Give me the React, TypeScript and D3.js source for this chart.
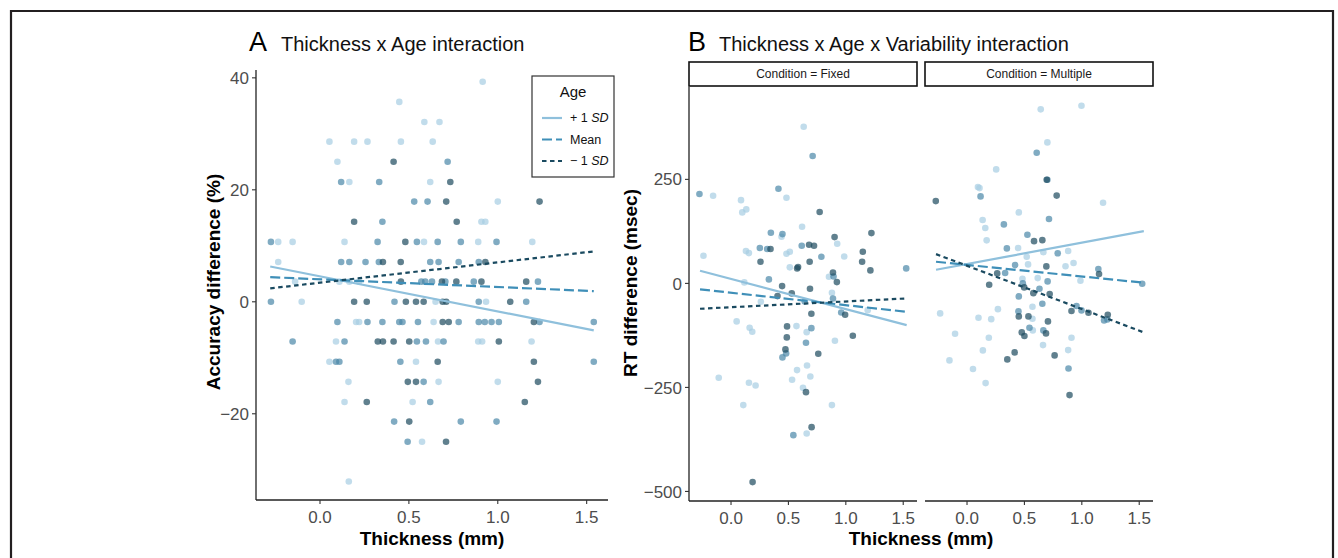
import React from 'react';
import * as d3 from 'd3';

// ---- data ----
// panel A: thickness (mm) vs accuracy difference (%), points grouped by age shade
const aOlderPts = [
  [0.915, 39.3], [0.446, 35.7], [0.587, 32.1], [0.672, 32.1], [0.053, 28.6], [0.192, 28.6], [0.267, 28.6],
  [0.455, 28.6], [0.634, 28.6], [0.098, 25], [0.165, 21.4], [0.62, 21.4], [1.0, 17.9], [0.908, 14.3],
  [0.93, 14.3], [-0.235, 10.7], [-0.154, 10.7], [0.138, 10.7], [0.585, 10.7], [0.89, 10.7], [1.194, 10.7],
  [-0.235, 7.1], [-0.14, 3.6], [0.109, 3.6], [0.165, 3.6], [0.22, 3.6], [-0.103, 0], [0.65, 0], [0.934, 0],
  [0.203, -3.6], [0.22, -3.6], [0.639, -3.6], [0.09, -7.1], [0.664, -7.1], [0.89, -7.1], [0.912, -7.1],
  [1.19, -7.1], [0.053, -10.7], [0.54, -10.7], [0.16, -14.3], [0.667, -14.3], [1.0, -14.3], [0.138, -17.9],
  [0.521, -17.9], [0.574, -25], [0.162, -32.1],
];
const aMeanPts = [
  [0.718, 25], [0.119, 21.4], [0.333, 21.4], [0.53, 17.9], [0.605, 17.9], [0.351, 14.3], [-0.276, 10.7],
  [0.324, 10.7], [0.545, 10.7], [0.662, 10.7], [0.792, 10.7], [0.993, 10.7], [0.119, 7.1], [0.165, 7.1],
  [0.256, 7.1], [0.331, 7.1], [0.62, 7.1], [0.667, 7.1], [0.78, 7.1], [0.893, 7.1], [0.57, 3.6], [0.592, 3.6],
  [0.63, 3.6], [0.705, 3.6], [0.865, 3.6], [1.226, 3.6], [-0.276, 0], [0.419, 0], [0.893, 0], [1.16, 0],
  [0.098, -3.6], [0.267, -3.6], [0.351, -3.6], [0.446, -3.6], [0.464, -3.6], [0.551, -3.6], [0.78, -3.6],
  [0.893, -3.6], [0.927, -3.6], [0.965, -3.6], [1.006, -3.6], [1.235, -3.6], [1.54, -3.6], [-0.154, -7.1],
  [0.138, -7.1], [0.545, -7.1], [0.596, -7.1], [0.695, -7.1], [0.09, -10.7], [0.109, -10.7], [0.452, -10.7],
  [1.54, -10.7], [0.583, -14.3], [0.62, -17.9], [0.417, -21.4], [0.792, -21.4], [0.993, -21.4], [0.493, -25],
];
const aYoungerPts = [
  [0.414, 25], [0.733, 21.4], [0.71, 17.9], [1.235, 17.9], [0.192, 14.3], [0.769, 14.3], [0.48, 10.7],
  [0.354, 7.1], [0.454, 7.1], [0.93, 7.1], [0.455, 3.6], [0.686, 3.6], [0.767, 3.6], [0.908, 3.6], [1.16, 3.6],
  [0.192, 0], [0.263, 0], [0.483, 0], [0.54, 0], [0.583, 0], [0.69, 0], [0.71, 0], [1.07, 0], [0.69, -3.6],
  [0.724, -3.6], [1.203, -3.6], [0.325, -7.1], [0.354, -7.1], [0.414, -7.1], [0.502, -7.1], [1.006, -7.1],
  [0.662, -10.7], [1.203, -10.7], [0.494, -14.3], [0.54, -14.3], [1.226, -14.3], [0.263, -17.9],
  [1.152, -17.9], [0.502, -21.4], [0.709, -25],
];

// panel B: RT difference (msec), two conditions
const bFixedOlder = [
  [-0.156, 210.6], [-0.24, 66.4], [0.087, 200], [0.098, 170.6], [0.133, 177.8], [0.13, 77.6], [0.156, 72.8],
  [0.116, 2.4], [0.44, 112], [0.483, 205.8], [0.26, -44.2], [0.049, -91.4], [0.162, -106.7], [0.185, -116.3],
  [-0.107, -226.9], [0.156, -238.9], [0.214, -245.3], [0.107, -292.5], [0.57, -102.6], [0.512, 38.5],
  [0.483, 71.2], [0.512, 76], [0.619, 136.1], [0.633, 376.5], [0.659, -117.2], [0.662, -197.2],
  [0.691, -223.6], [0.575, -208.4], [0.532, -231.7], [0.627, -251], [0.659, -360.7], [0.925, 95.3],
  [0.986, 64.8], [0.853, 15.9], [0.879, -22.6], [0.905, -138], [0.879, -292.5], [1.191, -64.3],
];
const bFixedMean = [
  [-0.275, 214.7], [0.251, 84.9], [0.315, 82.5], [0.347, 121.7], [0.33, 9.6], [0.413, 227.5], [0.448, 118.5],
  [0.48, -168.3], [0.448, -177.9], [0.616, 90.4], [0.711, 306], [0.787, 64], [0.642, -43.4], [0.7, -107.6],
  [0.653, -142.7], [0.543, -364.7], [0.893, 16.7], [0.888, -36.2], [0.96, -69.9], [1.526, 36],
];
const bFixedYounger = [
  [0.257, 52], [0.344, 82.5], [0.445, -6.5], [0.405, -30.5], [0.188, -477.6], [0.529, -24], [0.488, -103.4],
  [0.486, -129.8], [0.474, -158.6], [0.576, 36], [0.584, 39.2], [0.772, 171.4], [0.68, 92.8], [0.723, 90.4],
  [0.685, 52], [0.688, -12.9], [0.7, -73], [0.653, -261.4], [0.702, -345.5], [0.76, -169.1], [0.902, 111.3],
  [0.888, 26.3], [0.922, 3.1], [0.994, -75.5], [1.061, -125.9], [1.148, 76], [1.142, 52], [1.223, 120.9],
  [1.214, 31.2],
];
const bMultOlder = [
  [-0.234, -72.1], [-0.104, -121.2], [-0.153, -185.1], [0.052, -205.9], [0.095, 231.5], [0.109, 229],
  [0.136, 152.2], [0.159, 133], [0.171, 103.4], [0.254, 274], [0.1, -82.7], [0.211, -85.9], [0.269, -61.9],
  [0.19, -130.7], [0.138, -161.1], [0.162, -239.7], [0.451, 170.6], [0.445, 84.9], [0.483, 11.1], [0.57, -85],
  [0.573, -113], [0.52, 64], [0.532, 45.6], [0.665, 75], [0.616, 12.7], [0.57, -56.2], [0.662, -148.3],
  [0.642, 418.3], [0.7, 338.9], [0.881, 77.9], [0.858, 41.1], [0.928, 49], [0.988, 6.4], [0.91, -130.7],
  [0.881, -160.3], [0.997, 427], [1.185, 193.8],
];
const bMultMean = [
  [0.118, 209.1], [0.321, 141.8], [0.332, 24.8], [0.347, 84.1], [0.419, 44], [0.486, 0], [0.451, -31.3],
  [0.448, -67.3], [0.544, -106.6], [0.526, 116.8], [0.631, -13], [0.656, -49], [0.702, 4.8], [0.665, -113],
  [0.607, 314], [0.7, 249], [0.714, 154.6], [0.79, 72.3], [0.954, -54.5], [0.997, -64.9], [0.884, -204.4],
  [1.144, 34.4], [1.194, -88.9], [1.223, -86.5], [1.526, -0.8],
];
const bMultYounger = [
  [-0.272, 197.8], [0.263, 24], [0.193, -3.3], [0.351, -182.7], [0.415, -165.9], [0.498, -9.6], [0.451, -79.3],
  [0.535, -79.3], [0.477, -117.8], [0.5, -126.6], [0.584, 101.5], [0.656, 103.9], [0.578, -23.4],
  [0.691, 40.8], [0.72, -25.6], [0.705, -91.3], [0.688, -120.2], [0.763, -173.1], [0.694, 249], [0.781, 211],
  [0.91, -66.5], [1.058, -70.5], [0.893, -268.5], [1.15, 22.4], [1.226, -75.3],
];

// simple slopes: [x start, x end, y start, y end] for +1 SD, Mean, -1 SD
const ageLevels = ['+1 SD', 'Mean', '-1 SD'];
const aSlopes = [[-0.28, 1.54, 6.3, -5.1], [-0.28, 1.54, 4.4, 1.9], [-0.28, 1.54, 2.4, 9.0]];
const bFixedSlopes = [[-0.27, 1.53, 30.3, -100.2], [-0.27, 1.53, -14.4, -68.2], [-0.27, 1.53, -61, -36.1]];
const bMultSlopes = [[-0.27, 1.54, 32.7, 125.7], [-0.27, 1.54, 52, 1.6], [-0.27, 1.54, 70.4, -117.8]];

const xTicks = [0, 0.5, 1.0, 1.5];
const aYTicks = [40, 20, 0, -20];
const bYTicks = [250, 0, -250, -500];
const conditions = ['Fixed', 'Multiple'];

// ---- styling ----
const FONT = '"Liberation Sans", Arial, Helvetica, sans-serif';
const ptColors = ['#a6cde3', '#4a87a8', '#1d4a5e'];
const lineColors = ['#8fc0dc', '#3f8fb8', '#1a4a60'];
const lineDash = [null, '10,4', '4.5,3.5'];

const fmtTick = (v: number) => (v < 0 ? '\u2212' + Math.abs(v) : String(v));

type Pt = number[];

function Points({ sets, x, y }: { sets: Pt[][]; x: any; y: any }) {
  return (
    <g>
      {sets.map((pts, gi) =>
        pts.map((p, i) => (
          <circle key={gi + '-' + i} cx={x(p[0])} cy={y(p[1])} r={3.3} fill={ptColors[gi]} fillOpacity={0.7} />
        ))
      )}
    </g>
  );
}

function Slopes({ slopes, x, y }: { slopes: number[][]; x: any; y: any }) {
  const line = d3.line<number[]>().x((d) => x(d[0])).y((d) => y(d[1]));
  return (
    <g>
      {slopes.map((s, i) => (
        <path
          key={i}
          d={line([[s[0], s[2]], [s[1], s[3]]]) || ''}
          fill="none"
          stroke={lineColors[i]}
          strokeWidth={2.2}
          strokeDasharray={lineDash[i] || undefined}
        />
      ))}
    </g>
  );
}

function XAxis({ x, y0 }: { x: any; y0: number }) {
  const [r0, r1] = x.range();
  return (
    <g>
      <line x1={r0} x2={r1} y1={y0} y2={y0} stroke="#222" strokeWidth={1.3} />
      {xTicks.map((t) => (
        <g key={t} transform={`translate(${x(t)},${y0})`}>
          <line y1={0} y2={4} stroke="#333" strokeWidth={1.1} />
          <text y={22.5} textAnchor="middle" fontSize={17} fill="#4d4d4d" fontFamily={FONT}>
            {t.toFixed(1)}
          </text>
        </g>
      ))}
    </g>
  );
}

function YAxis({ y, x0, ticks }: { y: any; x0: number; ticks: number[] }) {
  const [r0, r1] = y.range();
  return (
    <g>
      <line x1={x0} x2={x0} y1={r0} y2={r1} stroke="#222" strokeWidth={1.3} />
      {ticks.map((t) => (
        <g key={t} transform={`translate(${x0},${y(t)})`}>
          <line x1={-4} x2={0} stroke="#333" strokeWidth={1.1} />
          <text x={-7} dy="0.36em" textAnchor="end" fontSize={17} fill="#4d4d4d" fontFamily={FONT}>
            {fmtTick(t)}
          </text>
        </g>
      ))}
    </g>
  );
}

export default function App() {
  // panel A scales
  const ax = d3.scaleLinear().domain([-0.36, 1.62]).range([256, 608]);
  const ay = d3.scaleLinear().domain([-35.4, 41.4]).range([500, 70]);
  // panel B scales (two facets share y)
  const bxFacets = [
    d3.scaleLinear().domain([-0.366, 1.62]).range([689, 917]),
    d3.scaleLinear().domain([-0.366, 1.62]).range([925, 1153]),
  ];
  const by = d3.scaleLinear().domain([-523, 472]).range([501, 87]);
  const bPts = [
    [bFixedOlder, bFixedMean, bFixedYounger],
    [bMultOlder, bMultMean, bMultYounger],
  ];
  const bSl = [bFixedSlopes, bMultSlopes];

  return (
    <svg
      width={1338}
      height={558}
      style={{ position: 'absolute', left: 0, top: 0, background: '#fff' }}
      fontFamily={FONT}
    >
      <rect x={0} y={0} width={1338} height={558} fill="#fff" />
      {/* outer frame */}
      <path d="M11,560 L11,11 L1333,11 L1333,560" fill="none" stroke="#231f20" strokeWidth={2.2} />

      {/* ===== Panel A ===== */}
      <text x={249} y={51} fontSize={27} fill="#000">A</text>
      <text x={281} y={51} fontSize={20} fill="#111">
        Thickness x Age interaction
      </text>
      <Points sets={[aOlderPts, aMeanPts, aYoungerPts]} x={ax} y={ay} />
      <Slopes slopes={aSlopes} x={ax} y={ay} />
      <YAxis y={ay} x0={256} ticks={aYTicks} />
      <XAxis x={ax} y0={500} />
      <text
        transform={`translate(220,${(ay.range()[0] + ay.range()[1]) / 2 - 3}) rotate(-90)`}
        textAnchor="middle"
        fontSize={19}
        fontWeight="bold"
        fill="#000"
      >
        Accuracy difference (%)
      </text>
      <text x={(ax.range()[0] + ax.range()[1]) / 2} y={545} textAnchor="middle" fontSize={19} fontWeight="bold">
        Thickness (mm)
      </text>

      {/* legend */}
      <g transform="translate(532,76)">
        <rect width={82} height={101} fill="#fff" stroke="#333" strokeWidth={1.2} />
        <text x={41} y={21} textAnchor="middle" fontSize={15} fill="#111">Age</text>
        {ageLevels.map((lv, i) => (
          <g key={lv} transform={`translate(0,${42 + i * 21.5})`}>
            <line x1={10} x2={30} stroke={lineColors[i]} strokeWidth={2.2} strokeDasharray={lineDash[i] || undefined} />
            <text x={38} dy="0.35em" fontSize={12.5} fill="#111">
              {i === 1 ? (
                'Mean'
              ) : (
                <>
                  {i === 0 ? '+ 1 ' : '\u2212 1 '}
                  <tspan fontStyle="italic">SD</tspan>
                </>
              )}
            </text>
          </g>
        ))}
      </g>

      {/* ===== Panel B ===== */}
      <text x={688} y={51} fontSize={27} fill="#000">B</text>
      <text x={719} y={51} fontSize={20} fill="#111">
        Thickness x Age x Variability interaction
      </text>
      {bxFacets.map((bx, fi) => {
        const [r0, r1] = bx.range();
        return (
          <g key={fi}>
            <rect x={r0} y={62} width={r1 - r0} height={24} fill="#fff" stroke="#111" strokeWidth={1.6} />
            <text x={(r0 + r1) / 2} y={78} textAnchor="middle" fontSize={12} fill="#1a1a1a">
              {'Condition = ' + conditions[fi]}
            </text>
            <Points sets={bPts[fi]} x={bx} y={by} />
            <Slopes slopes={bSl[fi]} x={bx} y={by} />
            <XAxis x={bx} y0={501} />
          </g>
        );
      })}
      <YAxis y={by} x0={689} ticks={bYTicks} />
      <text
        transform={`translate(637,283) rotate(-90)`}
        textAnchor="middle"
        fontSize={19}
        fontWeight="bold"
        fill="#000"
      >
        RT difference (msec)
      </text>
      <text x={921} y={545} textAnchor="middle" fontSize={19} fontWeight="bold">
        Thickness (mm)
      </text>
    </svg>
  );
}
